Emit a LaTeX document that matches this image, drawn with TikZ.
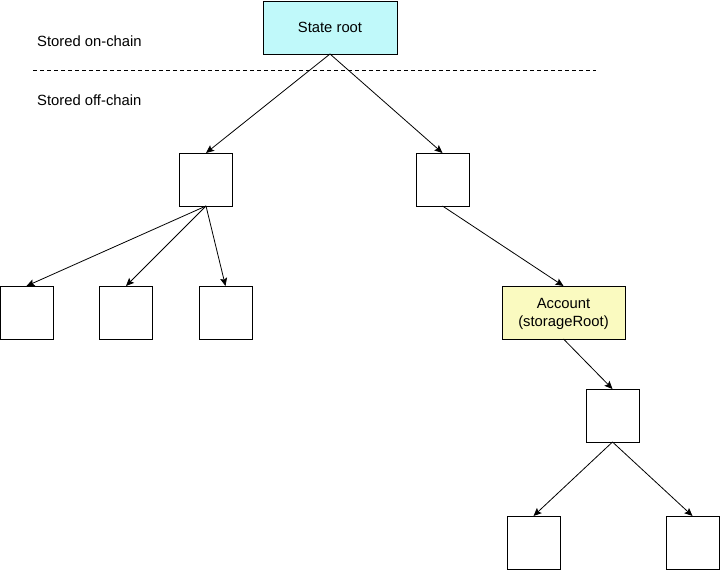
\documentclass[tikz,border=0pt]{standalone}
\usepackage{fontspec}
\setmainfont{Liberation Sans}
\usetikzlibrary{arrows.meta}
\definecolor{rootfill}{RGB}{192,249,250}
\definecolor{accfill}{RGB}{250,250,192}
\begin{document}
\begin{tikzpicture}[x=1pt,y=-1pt,
  box/.style={draw=black,line width=0.9pt,fill=white,minimum width=53pt,minimum height=53pt,inner sep=0pt,outer sep=0pt},
  conn/.style={line width=0.8pt,-{Stealth[length=8pt,width=7pt,inset=1.5pt]}},
  lbl/.style={font=\fontsize{14.8}{17}\selectfont,inner sep=0pt,anchor=west}]
\useasboundingbox (0,0) rectangle (720,570);
\node[box,fill=rootfill,minimum width=134pt,minimum height=53pt,font=\fontsize{14.8}{17}\selectfont] (root) at (330,27.5) {State root};
\node[lbl] (on) at (37,41) {Stored on-chain};
\node[lbl] (off) at (37,100) {Stored off-chain};
\coordinate (d1) at (33,70);
\coordinate (d2) at (596,70);
\draw[line width=0.8pt,dash pattern=on 4pt off 3pt] (d1) -- (d2);
\node[box] (l1) at (206,179.5) {};
\node[box] (r1) at (442.5,179.5) {};
\node[box] (a) at (26.5,312.5) {};
\node[box] (b) at (126,312.5) {};
\node[box] (c) at (225.5,312.5) {};
\node[box,fill=accfill,minimum width=123pt] (acc) at (563.5,312.5) {};
\node[align=center,inner sep=0pt,font=\fontsize{14.8}{18.5}\selectfont] (acctext) at (563.5,314) {Account\\(storageRoot)};
\node[box] (s) at (612.5,415.5) {};
\node[box] (s1) at (533.5,542.5) {};
\node[box] (s2) at (692.5,542.5) {};
\draw[conn] (root.south) -- (l1.north);
\draw[conn] (root.south) -- (r1.north);
\draw[conn] (l1.south) -- (a.north);
\draw[conn] (l1.south) -- (b.north);
\draw[conn] (l1.south) -- (c.north);
\draw[conn] (r1.south) -- (acc.north);
\draw[conn] (acc.south) -- (s.north);
\draw[conn] (s.south) -- (s1.north);
\draw[conn] (s.south) -- (s2.north);
\end{tikzpicture}
\end{document}
